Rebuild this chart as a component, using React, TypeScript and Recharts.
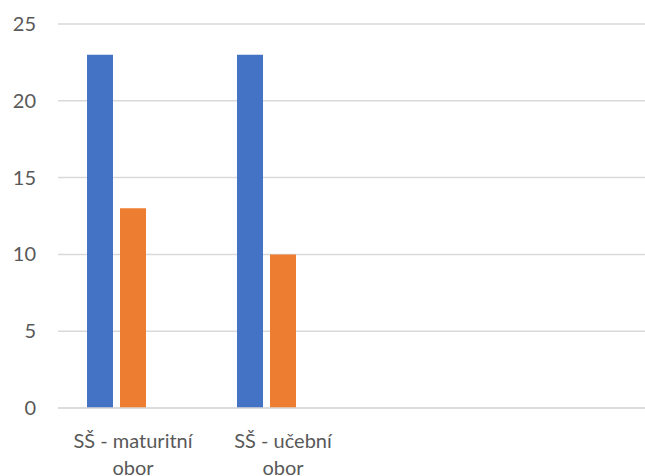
import { BarChart, Bar, XAxis, YAxis, CartesianGrid } from 'recharts';

const categories = ['SŠ - maturitní obor', 'SŠ - učební obor', '', ''];
const series1 = [23, 23, null, null];
const series2 = [13, 10, null, null];
const series3 = [0, 0, null, null];
const yTicks = [0, 5, 10, 15, 20, 25];

const data = categories.map((name, i) => ({
  name,
  s1: series1[i],
  s2: series2[i],
  s3: series3[i],
}));

const FONT = 'Lato, "Open Sans", "Noto Sans", sans-serif';
const TEXT = '#595959';

const XTick = ({ x, y, payload }: { x?: number; y?: number; payload?: { value: string } }) => {
  const v = payload?.value ?? '';
  if (!v) return null;
  const cut = v.lastIndexOf(' ');
  const lines = [v.slice(0, cut), v.slice(cut + 1)];
  return (
    <text x={x} y={(y ?? 0) + 32} textAnchor="middle" fill={TEXT} fontFamily={FONT} fontSize={20}>
      {lines.map((l, i) => (
        <tspan key={i} x={x} dy={i === 0 ? 0 : 27}>{l}</tspan>
      ))}
    </text>
  );
};

const YTick = ({ y, payload }: { y?: number; payload?: { value: number } }) => (
  <text x={36} y={(y ?? 0) + 7} textAnchor="end" fill={TEXT} fontFamily={FONT} fontSize={20}>
    {payload?.value}
  </text>
);

export default function App() {
  return (
    <div style={{ position: 'absolute', left: 0, top: 0, width: 645, height: 476, overflow: 'hidden', background: '#fff' }}>
      <BarChart
        width={658}
        height={476}
        data={data}
        margin={{ top: 24, right: 0, bottom: 0, left: 0 }}
        barGap={7}
        barCategoryGap="19%"
      >
        <CartesianGrid vertical={false} stroke="#D9D9D9" strokeWidth={1.5} />
        <XAxis
          dataKey="name"
          height={68}
          tick={<XTick />}
          tickLine={false}
          axisLine={{ stroke: '#D9D9D9', strokeWidth: 1.5 }}
          interval={0}
        />
        <YAxis
          width={58}
          domain={[0, 25]}
          ticks={yTicks}
          tick={<YTick />}
          tickLine={false}
          axisLine={false}
        />
        <Bar dataKey="s1" fill="#4472C4" barSize={26} isAnimationActive={false} />
        <Bar dataKey="s2" fill="#ED7D31" barSize={26} isAnimationActive={false} />
        <Bar dataKey="s3" fill="#A5A5A5" barSize={26} isAnimationActive={false} />
      </BarChart>
    </div>
  );
}
